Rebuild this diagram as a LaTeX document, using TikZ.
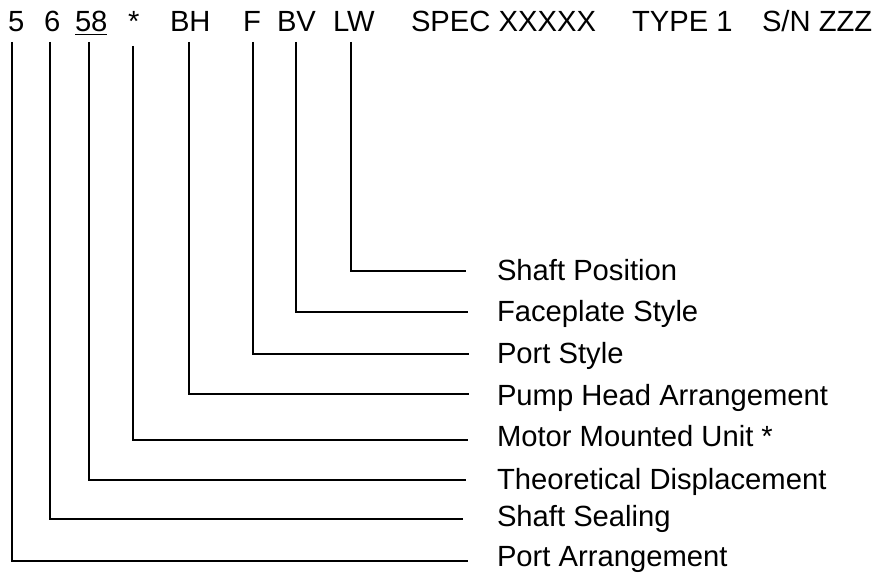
\documentclass[tikz,border=0pt]{standalone}
\usepackage{fontspec}
\setmainfont{Liberation Sans}
\begin{document}
\begin{tikzpicture}[x=0.75pt,y=-0.75pt,
  txt/.style={inner sep=0pt,outer sep=0pt,anchor=base west,font=\fontsize{21.9pt}{26pt}\selectfont},
  lead/.style={line width=1.5pt,line join=miter}]
\useasboundingbox[fill=white] (0,0) rectangle (876,573);
% top code row
\node[txt] (c5)   at (8,32)   {5};
\node[txt] (c6)   at (44,32)  {6};
\node[txt] (c58)  at (75,32)  {58};
\node[txt] (cst)  at (128,32) {*};
\node[txt] (cBH)  at (170,32) {BH};
\node[txt] (cF)   at (243,32) {F};
\node[txt] (cBV)  at (277,32) {BV};
\node[txt] (cLW)  at (333,32) {LW};
\node[txt] (cSP)  at (411,32) {SPEC XXXXX};
\node[txt] (cTY)  at (632,32) {TYPE 1};
\node[txt] (cSN)  at (762,32) {S/N ZZZ};
\draw[line width=1.3pt] ([yshift=-1.8pt]c58.base west) -- ([yshift=-1.8pt]c58.base east);
% labels
\node[txt] (l1) at (497,281) {Shaft Position};
\node[txt] (l2) at (497,322) {Faceplate Style};
\node[txt] (l3) at (497,364) {Port Style};
\node[txt] (l4) at (497,406) {Pump Head Arrangement};
\node[txt] (l5) at (497,447) {Motor Mounted Unit *};
\node[txt] (l6) at (497,490) {Theoretical Displacement};
\node[txt] (l7) at (497,527) {Shaft Sealing};
\node[txt] (l8) at (497,567) {Port Arrangement};
% leader end points
\coordinate (tLW) at (351,42);  \coordinate (eLW) at (466,271);
\coordinate (tBV) at (296,42);  \coordinate (eBV) at (468,312);
\coordinate (tF)  at (253,42);  \coordinate (eF)  at (469,354);
\coordinate (tBH) at (189,42);  \coordinate (eBH) at (469,394);
\coordinate (tst) at (133,46);  \coordinate (est) at (468,440);
\coordinate (t58) at (89,42);   \coordinate (e58) at (466,480);
\coordinate (t6)  at (50,42);   \coordinate (e6)  at (463,519);
\coordinate (t5)  at (12,42);   \coordinate (e5)  at (468,561);
\draw[lead] (tLW) |- (eLW);
\draw[lead] (tBV) |- (eBV);
\draw[lead] (tF)  |- (eF);
\draw[lead] (tBH) |- (eBH);
\draw[lead] (tst) |- (est);
\draw[lead] (t58) |- (e58);
\draw[lead] (t6)  |- (e6);
\draw[lead] (t5)  |- (e5);
\end{tikzpicture}
\end{document}
